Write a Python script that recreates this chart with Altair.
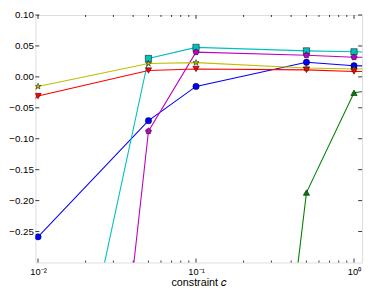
import math
import altair as alt
import pandas as pd

# ---- data ----
c_values = [0.001, 0.01, 0.05, 0.1, 0.5, 1.0, 5.0]
series_names = ["blue", "cyan", "magenta", "yellow", "red", "green"]
blue = [-0.39, -0.2585, -0.0708, -0.0154, 0.0236, 0.0180, 0.0150]
cyan = [-1.00, -0.80, 0.0297, 0.0477, 0.0420, 0.0405, 0.0380]
magenta = [-2.00, -1.70, -0.0877, 0.0400, 0.0350, 0.0318, 0.0310]
yellow = [-0.285, -0.0154, 0.0215, 0.0230, 0.0143, 0.0128, 0.0120]
red = [-0.236, -0.0310, 0.0103, 0.0128, 0.0113, 0.0087, 0.0070]
green = [None, None, None, -1.68, -0.187, -0.0257, -0.0020]

colors = ["#0000ff", "#00bfbf", "#bf00bf", "#bfbf00", "#ff0000", "#008000"]
star = "M0,-1L0.2245,-0.309L0.951,-0.309L0.363,0.118L0.588,0.809L0,0.382L-0.588,0.809L-0.363,0.118L-0.951,-0.309L-0.2245,-0.309Z"
pentagon = "M0,-1L0.951,-0.309L0.588,0.809L-0.588,0.809L-0.951,-0.309Z"
shapes = ["circle", "square", pentagon, star, "triangle-down", "triangle-up"]

x_major = [0.01, 0.1, 1.0]
y_major = [-0.25, -0.20, -0.15, -0.10, -0.05, 0.00, 0.05, 0.10]

X_DOMAIN = [0.00962, 1.125]
Y_DOMAIN = [-0.30, 0.10]
W, H = 334, 253

rows = []
for name, vals in zip(series_names, [blue, cyan, magenta, yellow, red, green]):
    for c, v in zip(c_values, vals):
        if v is not None:
            rows.append({"series": name, "c": c, "v": v})
df = pd.DataFrame(rows)

x_minor = [k * 10.0 ** d for d in range(-3, 1) for k in range(2, 10)
           if X_DOMAIN[0] <= k * 10.0 ** d <= X_DOMAIN[1]]

xs = alt.Scale(type="log", domain=X_DOMAIN, nice=False)
ys = alt.Scale(domain=Y_DOMAIN, nice=False)

x_axis = alt.Axis(
    values=x_major, ticks=False, domain=False, grid=False, labelOverlap=False,
    labelExpr="datum.value < 0.05 ? '10⁻²' : (datum.value < 0.5 ? '10⁻¹' : '10⁰')",
    labelPadding=4, labelFontSize=9.5, title="constraint 𝑐", titlePadding=1,
    titleFontWeight="normal",
)
y_axis = alt.Axis(
    values=y_major, ticks=False, domain=False, grid=False, labelOverlap=False,
    labelExpr="replace(format(datum.value, '.2f'), '-', '−')",
    labelPadding=2, title=None, labelBound=False,
)

color = alt.Color("series:N", scale=alt.Scale(domain=series_names, range=colors), legend=None)
shape = alt.Shape("series:N", scale=alt.Scale(domain=series_names, range=shapes), legend=None)

lines = alt.Chart(df).mark_line(clip=True, strokeWidth=1.1).encode(
    x=alt.X("c:Q", scale=xs, axis=x_axis), y=alt.Y("v:Q", scale=ys, axis=y_axis),
    color=color, detail="series:N",
)
points = alt.Chart(df).mark_point(
    clip=True, filled=True, size=42, stroke="black", strokeWidth=0.5, opacity=1
).encode(
    x=alt.X("c:Q", scale=xs, axis=x_axis), y=alt.Y("v:Q", scale=ys, axis=y_axis),
    color=color, shape=shape,
)

def xticks(vals, length):
    d = pd.DataFrame({"t": vals})
    base = alt.Chart(d).mark_rule(color="black", strokeWidth=0.8)
    xe = alt.X("t:Q", scale=xs, axis=x_axis)
    bottom = base.encode(x=xe, y=alt.value(H), y2=alt.value(H - length))
    top = base.encode(x=xe, y=alt.value(0), y2=alt.value(length))
    return [bottom, top]

def yticks(vals, length):
    d = pd.DataFrame({"t": vals})
    base = alt.Chart(d).mark_rule(color="black", strokeWidth=0.8)
    ye = alt.Y("t:Q", scale=ys, axis=y_axis)
    left = base.encode(y=ye, x=alt.value(0), x2=alt.value(length))
    right = base.encode(y=ye, x=alt.value(W - length), x2=alt.value(W))
    return [left, right]

layers = [lines, points] + xticks(x_major, 4) + xticks(x_minor, 2) + yticks(y_major, 4)

chart = alt.layer(*layers).properties(
    width=W, height=H,
    autosize=alt.AutoSizeParams(type="none"),
    padding={"left": 28, "top": 4, "right": 4, "bottom": 26},
).configure_view(
    stroke="black", strokeWidth=1
).configure_axis(
    labelFont="DejaVu Sans", labelFontSize=8.5, labelColor="black",
    titleFont="DejaVu Sans", titleFontSize=9.5, titleColor="black", titleFontWeight="normal",
).configure(background="white")

chart.save("out.html", embed_options={"renderer": "svg", "actions": False})
